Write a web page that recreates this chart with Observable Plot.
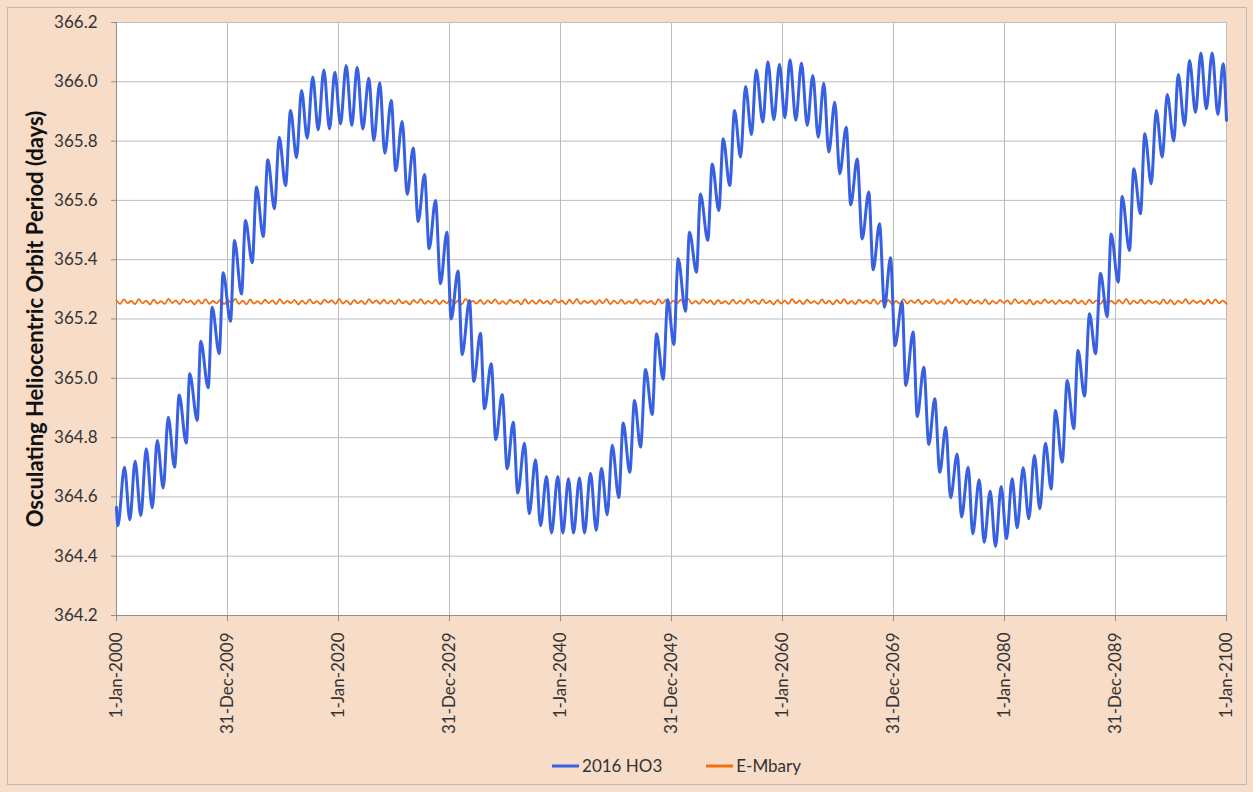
<!DOCTYPE html>
<html>
<head>
<meta charset="utf-8">
<script src="https://cdn.jsdelivr.net/npm/d3@7"></script>
<script src="https://cdn.jsdelivr.net/npm/@observablehq/plot@0.6"></script>
<style>
  html, body { margin: 0; padding: 0; background: #f7dcc8; }
  #wrap { position: relative; width: 1253px; height: 792px; background: #f7dcc8; font-family: Lato, "Open Sans", sans-serif; overflow: hidden; }
  #border { position: absolute; left: 7px; top: 7px; width: 1240px; height: 778px; border: 1px solid #b9b9b9; box-sizing: border-box; pointer-events: none; }
  #chart { position: absolute; left: 0; top: 0; }
  #legend { position: absolute; top: 755px; left: 50px; width: 1253px; display: flex; justify-content: center; gap: 44px; font-size: 17px; color: #333; }
  .item { display: flex; align-items: center; }
  .item svg { margin-right: 3px; }
</style>
</head>
<body>
<div id="wrap">
  <div id="chart"></div>
  <div id="legend"></div>
  <div id="border"></div>
</div>
<script>
// ---- data ----
const seriesNames = ["2016 HO3", "E-Mbary"];
const seriesColors = ["#3760e2", "#f26d12"];

// 2016 HO3: turning points, time in years since 1-Jan-2000
const hoYears = [
  0.00,0.12,0.72,1.20,1.68,2.19,2.68,3.22,3.67,4.21,4.66,5.23,5.65,6.28,6.60,7.27,7.59,8.26,8.62,9.25,
  9.61,10.27,10.63,11.26,11.62,12.23,12.61,13.22,13.63,14.23,14.66,15.23,15.68,16.22,16.67,17.18,17.68,18.17,18.68,19.19,
  19.67,20.18,20.69,21.20,21.68,22.19,22.73,23.18,23.72,24.17,24.75,25.16,25.74,26.19,26.73,27.18,27.75,28.17,28.74,29.19,
  29.76,30.15,30.77,31.14,31.80,32.19,32.79,33.15,33.76,34.17,34.75,35.20,35.74,36.15,36.76,37.18,37.75,38.20,38.74,39.19,
  39.76,40.21,40.72,41.17,41.71,42.16,42.70,43.22,43.69,44.21,44.66,45.25,45.65,46.24,46.67,47.21,47.66,48.26,48.65,49.25,
  49.66,50.21,50.60,51.26,51.62,52.25,52.61,53.27,53.67,54.26,54.66,55.25,55.68,56.22,56.67,57.21,57.63,58.23,58.68,59.22,
  59.73,60.21,60.68,61.20,61.71,62.23,62.73,63.22,63.72,64.17,64.71,65.16,65.74,66.15,66.73,67.18,67.77,68.17,68.74,69.19,
  69.73,70.14,70.77,71.11,71.77,72.14,72.73,73.18,73.72,74.17,74.71,75.14,75.74,76.13,76.73,77.14,77.72,78.17,78.71,79.19,
  79.70,80.18,80.69,81.14,81.68,82.19,82.70,83.18,83.69,84.20,84.59,85.20,85.65,86.24,86.62,87.21,87.66,88.20,88.65,89.25,
  89.61,90.24,90.60,91.26,91.65,92.25,92.64,93.22,93.67,94.21,94.66,95.25,95.65,96.22,96.67,97.21,97.69,98.18,98.71,99.22,
  99.70,100.00
];
const hoPeriod = [
  364.565,364.503,364.700,364.523,364.720,364.537,364.762,364.563,364.790,364.630,364.869,364.700,364.944,364.781,365.015,364.858,365.125,364.968,365.240,365.083,
  365.356,365.192,365.465,365.284,365.532,365.390,365.645,365.478,365.737,365.572,365.813,365.650,365.903,365.744,365.971,365.810,366.016,365.838,366.040,365.841,
  366.032,365.858,366.055,365.853,366.049,365.841,366.012,365.802,365.997,365.759,365.937,365.700,365.866,365.620,365.777,365.529,365.687,365.437,365.600,365.319,
  365.493,365.200,365.362,365.080,365.262,364.989,365.152,364.897,365.049,364.793,364.945,364.695,364.852,364.613,364.781,364.543,364.725,364.503,364.669,364.478,
  364.669,364.478,364.661,364.478,364.664,364.478,364.680,364.487,364.697,364.540,364.774,364.598,364.849,364.683,364.925,364.768,365.030,364.878,365.150,364.997,
  365.265,365.114,365.403,365.226,365.493,365.358,365.622,365.465,365.723,365.566,365.808,365.650,365.903,365.746,365.984,365.822,366.040,365.864,366.068,365.872,
  366.058,365.879,366.074,365.870,366.063,365.853,366.021,365.813,365.995,365.763,365.931,365.690,365.847,365.585,365.740,365.470,365.628,365.366,365.521,365.240,
  365.407,365.110,365.257,364.976,365.156,364.871,365.037,364.777,364.931,364.683,364.835,364.597,364.745,364.532,364.700,364.476,364.658,364.447,364.619,364.433,
  364.635,364.459,364.661,364.496,364.698,364.526,364.740,364.560,364.781,364.627,364.891,364.717,364.993,364.830,365.094,364.940,365.218,365.083,365.354,365.208,
  365.487,365.324,365.613,365.431,365.707,365.555,365.825,365.656,365.903,365.746,365.957,365.800,366.025,365.853,366.072,365.897,366.097,365.909,366.097,365.890,
  366.061,365.870
];

// E-Mbary: small wiggles, evenly sampled from 1-Jan-2000 to 1-Jan-2100
const emPeriod = [
  365.263,365.251,365.266,365.254,365.261,365.250,365.267,365.253,365.262,365.249,
  365.265,365.252,365.260,365.251,365.268,365.254,365.263,365.250,365.266,365.255,
  365.262,365.249,365.264,365.252,365.267,365.251,365.261,365.253,365.265,365.250,
  365.263,365.254,365.268,365.251,365.262,365.249,365.266,365.252,365.260,365.251,
  365.265,365.253,365.263,365.250,365.267,365.252,365.261,365.254,365.264,365.249,
  365.262,365.251,365.266,365.253,365.260,365.250,365.265,365.255,365.263,365.251,
  365.268,365.252,365.262,365.249,365.264,365.253,365.261,365.250,365.267,365.254,
  365.263,365.251,365.265,365.252,365.262,365.250,365.266,365.253,365.260,365.249,
  365.264,365.254,365.267,365.251,365.261,365.252,365.265,365.250,365.263,365.253,
  365.266,365.251,365.262,365.249,365.268,365.254,365.261,365.252,365.264,365.250,
  365.263,365.253,365.266,365.251,365.260,365.250,365.265,365.254,365.262,365.249,
  365.267,365.252,365.263,365.251,365.264,365.253,365.261,365.250,365.266,365.255,
  365.262,365.250,365.265,365.252,365.268,365.251,365.261,365.254,365.263,365.249,
  365.264,365.253,365.267,365.250,365.262,365.252,365.265,365.251,365.260,365.253,
  365.266,365.250,365.263,365.254,365.261,365.249,365.267,365.252,365.264,365.251,
  365.262,365.253,365.265,365.250,365.268,365.252,365.261,365.251,365.266,365.254,
  365.263,365.249,365.264,365.253,365.260,365.250,365.265,365.252,365.262,365.251,
  365.267,365.254,365.263,365.250,365.266,365.253,365.261,365.249,365.264,365.252,
  365.262,365.251,365.268,365.253,365.263,365.250,365.265,365.254,365.260,365.251,
  365.266,365.252,365.262,365.249,365.264,365.253,365.267,365.251,365.261,365.250,
  365.265,365.254,365.263,365.252,365.266,365.250,365.262,365.253,365.264,365.249,
  365.261,365.251,365.267,365.252,365.263,365.254,365.265,365.250,365.262,365.253,
  365.266,365.251,365.260,365.250,365.264,365.252,365.268,365.254,365.263,365.249,
  365.265,365.253,365.262,365.251,365.266,365.250,365.261,365.252,365.264,365.254,
  365.263,365.250,365.267,365.253,365.262,365.251,365.265,365.249,365.260,365.252,
  365.266,365.254,365.263,365.250,365.264,365.253,365.261,365.251,365.267,365.252,
  365.262,365.249,365.265,365.253,365.263,365.250,365.266,365.254,365.261,365.251,
  365.264,365.252,365.268,365.250,365.262,365.253,365.265,365.251,365.263,365.254,
  365.260,365.250,365.266,365.252,365.264,365.249,365.262,365.253,365.267,365.251,
  365.263,365.254,365.261,365.250,365.265,365.252,365.266,365.253,365.262,365.251
];

const xTickDates = ["2000-01-01","2009-12-31","2020-01-01","2029-12-31","2040-01-01","2049-12-31","2060-01-01","2069-12-31","2080-01-01","2089-12-31","2100-01-01"];
const xTickLabels = ["1-Jan-2000","31-Dec-2009","1-Jan-2020","31-Dec-2029","1-Jan-2040","31-Dec-2049","1-Jan-2060","31-Dec-2069","1-Jan-2080","31-Dec-2089","1-Jan-2100"];
const yTicks = [364.2,364.4,364.6,364.8,365.0,365.2,365.4,365.6,365.8,366.0,366.2];
const yTitle = "Osculating Heliocentric Orbit Period (days)";

// ---- build tables ----
const t0 = Date.UTC(2000, 0, 1), t1 = Date.UTC(2100, 0, 1);
const yearMs = (t1 - t0) / 100;
const hoData = hoYears.map((yr, i) => ({date: new Date(t0 + yr * yearMs), v: hoPeriod[i]}));
const emData = emPeriod.map((v, i) => ({date: new Date(t0 + (t1 - t0) * i / (emPeriod.length - 1)), v}));
const xTicks = xTickDates.map(s => new Date(s + "T00:00:00Z"));
const labelMap = new Map(xTicks.map((d, i) => [+d, xTickLabels[i]]));

const gridColor = "#bdbdbd";
const chart = Plot.plot({
  width: 1253,
  height: 745,
  marginLeft: 116,
  marginRight: 27,
  marginTop: 22,
  marginBottom: 130,
  style: {background: "transparent", fontFamily: "Lato, 'Open Sans', sans-serif", fontSize: "17px", color: "#333"},
  x: {type: "utc", domain: [new Date(t0), new Date(t1)]},
  y: {domain: [364.2, 366.2]},
  marks: [
    Plot.frame({fill: "white", stroke: "none"}),
    Plot.gridX(xTicks, {stroke: gridColor, strokeOpacity: 1}),
    Plot.gridY(yTicks, {stroke: gridColor, strokeOpacity: 1}),
    Plot.ruleX([new Date(t0)], {stroke: "#8f8f8f"}),
    Plot.ruleY([364.2], {stroke: "#8f8f8f"}),
    Plot.axisY(yTicks, {tickFormat: d => d.toFixed(1), tickSize: 5, tickPadding: 14, stroke: "#8f8f8f", fill: "#333", label: null}),
    Plot.axisX(xTicks, {tickFormat: d => labelMap.get(+d), tickRotate: -90, tickSize: 6, tickPadding: 11, stroke: "#8f8f8f", fill: "#333", label: null}),
    Plot.text([yTitle], {frameAnchor: "left", dx: -81, rotate: -90, textAnchor: "middle", lineAnchor: "middle", fontWeight: "bold", fontSize: 22, fill: "#111"}),
    Plot.line(emData, {x: "date", y: "v", stroke: seriesColors[1], strokeWidth: 1.8, curve: "catmull-rom"}),
    Plot.line(hoData, {x: "date", y: "v", stroke: seriesColors[0], strokeWidth: 3, curve: "monotone-x"})
  ]
});
document.getElementById("chart").appendChild(chart);

// legend
const legend = document.getElementById("legend");
seriesNames.forEach((name, i) => {
  const item = document.createElement("div");
  item.className = "item";
  item.innerHTML = `<svg width="27" height="10"><line x1="0" x2="27" y1="5" y2="5" stroke="${seriesColors[i]}" stroke-width="3"/></svg><span>${name}</span>`;
  legend.appendChild(item);
});
</script>
</body>
</html>
